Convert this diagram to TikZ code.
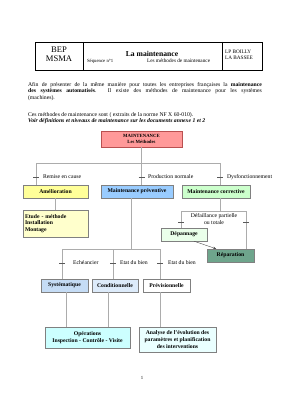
\documentclass[tikz,border=0pt]{standalone}
\usepackage{fontspec}
\setmainfont{Liberation Serif}
\usetikzlibrary{arrows.meta}

\definecolor{rosemtn}{RGB}{255,153,153}
\definecolor{bordmtn}{RGB}{185,80,80}
\definecolor{jaunebox}{RGB}{255,255,153}
\definecolor{jaunepale}{RGB}{255,255,204}
\definecolor{bleuprev}{RGB}{153,204,255}
\definecolor{vertcorr}{RGB}{204,255,204}
\definecolor{vertpale}{RGB}{234,255,234}
\definecolor{vertrepa}{RGB}{110,165,140}
\definecolor{bleusyst}{RGB}{197,220,245}
\definecolor{bleucond}{RGB}{221,235,250}
\definecolor{cyanop}{RGB}{204,255,255}
\definecolor{cyanana}{RGB}{234,255,255}

\begin{document}
\begin{tikzpicture}[x=2.1pt, y=-2.1pt, >=Stealth,
    every node/.style={font=\fontsize{12}{13.8}\selectfont},
    boite/.style={draw=black!50, line width=0.8pt, inner sep=0pt, minimum height=27.3pt,
        align=center, font=\fontsize{12}{13.8}\selectfont\bfseries},
    trait/.style={gray!65, line width=1.5pt},
    repere/.style={black!65, line width=0.6pt},
    etiq/.style={anchor=west, inner sep=0pt}]

    \useasboundingbox (0,0) rectangle (283,400);

    % Cartouche
    \draw[line width=0.6pt] (35,42) rectangle (262,70);
    \draw[line width=0.6pt] (83,42) -- (83,70) (222,42) -- (222,70);
    \node[align=center, font=\fontsize{18}{20}\selectfont] (bep) at (59,54) {BEP\\MSMA};
    \node[font=\fontsize{16}{18}\selectfont\bfseries] (titre) at (152,54) {La maintenance};
    \node[etiq, font=\fontsize{10}{12}\selectfont] (seq) at (87,61) {Séquence n°1};
    \node[etiq, font=\fontsize{11}{12}\selectfont] (meth) at (147,61) {Les méthodes de maintenance};
    \node[etiq, align=left, font=\fontsize{11}{13}\selectfont] (lp) at (225,55) {LP BOILLY\\LA BASSEE};

    % Texte d'introduction
    \node[anchor=north west, inner sep=0pt, text width=491pt, align=justify] (intro) at (28,82)
        {Afin de présenter de la même manière pour toutes les entreprises françaises la \textbf{maintenance}\linebreak
        \textbf{des systèmes automatisés}. Il existe des méthodes de maintenance pour les systèmes\linebreak
        (machines).};
    \node[anchor=north west, inner sep=0pt, align=left] (norme) at (28,112)
        {Ces méthodes de maintenance sont ( extraits de la norme NF X 60-010).\\
        \textbf{\textit{Voir définitions et niveaux de maintenance sur les documents annexe 1 et 2}}};

    % Les boîtes
    \node[boite, fill=rosemtn, draw=bordmtn, minimum width=170pt, minimum height=33.6pt,
        font=\fontsize{10}{11}\selectfont\bfseries] (mtn) at (141.5,139) {MAINTENANCE\\Les Méthodes};
    \node[boite, fill=jaunebox, minimum width=136.5pt] (amel) at (55.5,191.5) {Amélioration};
    \node[boite, fill=bleuprev, minimum width=151.2pt] (prev) at (137,191.5) {Maintenance préventive};
    \node[boite, fill=vertcorr, minimum width=142.8pt] (corr) at (216,191.5) {Maintenance corrective};
    \node[boite, fill=jaunepale, minimum width=136.5pt, minimum height=56.7pt, align=left,
        text width=128pt] (etude) at (55.5,223.5) {Etude - méthode\\Installation\\Montage};
    \node[boite, fill=vertpale, minimum width=96.6pt] (depa) at (184,234.5) {Dépannage};
    \node[boite, fill=vertrepa, minimum width=98.7pt] (repa) at (230.5,255.5) {Réparation};
    \node[boite, fill=bleusyst, minimum width=98.7pt] (syst) at (64.5,285.5) {Systématique};
    \node[boite, fill=bleucond, minimum width=96.6pt] (cond) at (115,285.5) {Conditionnelle};
    \node[boite, fill=white, minimum width=98.7pt] (prevs) at (166.5,285.5) {Prévisionnelle};
    \node[boite, fill=cyanop, minimum width=178.5pt, minimum height=44.1pt] (oper) at (87.5,337.5)
        {Opérations\\Inspection - Contrôle - Visite};
    \node[boite, fill=cyanana, minimum width=161.7pt, minimum height=52.5pt] (anal) at (177.5,339.5)
        {Analyse de l'évolution des\\paramètres et planification\\des interventions};

    % Premier niveau
    \coordinate (bA) at (141.5,163);
    \coordinate (bG) at (36,163);
    \coordinate (bD) at (220,163);
    \draw[trait] (mtn) -- (bA);
    \draw[trait] (bG) -- (bD);
    \draw[trait] (bG) -- (bG |- amel.north);
    \draw[trait] (bA) -- (bA |- prev.north);
    \draw[trait] (bD) -- (bD |- corr.north);
    \foreach \x/\lx/\txt [count=\i] in {36/43/Remise en cause, 141.5/148/Production normale, 220/227/Dysfonctionnement} {
        \draw[repere] (\x-3,177) -- (\x+3,177);
        \node[etiq] (causeA\i) at (\lx,177) {\txt};
    }

    % Amélioration
    \draw[trait] (amel) -- (etude);

    % Maintenance corrective
    \coordinate (cJ) at (220,211);
    \coordinate (cG) at (181,211);
    \coordinate (cD) at (246,211);
    \draw[trait] (cJ |- corr.south) -- (cJ);
    \draw[trait] (cG) -- (cD);
    \draw[trait] (cG) -- (cG |- depa.north);
    \draw[trait] (cD) -- (cD |- repa.north);
    \foreach \x in {181,246}
        \draw[repere] (\x-3,222) -- (\x+3,222);
    \node[align=center, inner sep=0pt] (defa) at (214,219) {Défaillance partielle\\ou totale};
    \draw[->, black!70, line width=0.8pt] ([xshift=21pt]depa.south) -- ([xshift=-30pt]repa.north);

    % Maintenance préventive
    \coordinate (pJ) at (131,249);
    \coordinate (pG) at (62,249);
    \coordinate (pM) at (113,249);
    \coordinate (pD) at (160,249);
    \draw[trait] (pJ |- prev.south) -- (pJ);
    \draw[trait] (pG) -- (pD);
    \draw[trait] (pG) -- (pG |- syst.north);
    \draw[trait] (pM) -- (pM |- cond.north);
    \draw[trait] (pD) -- (pD |- prevs.north);
    \foreach \x/\lx/\txt [count=\i] in {62/73/Echéancier, 113/120/Etat du bien, 160/168/Etat du bien} {
        \draw[repere] (\x-3,263) -- (\x+3,263);
        \node[etiq] (causeB\i) at (\lx,263) {\txt};
    }

    % Dernier niveau
    \coordinate (sA) at (66,300);
    \coordinate (sB) at (108,300);
    \coordinate (sC) at (160,300);
    \draw[trait] (sA |- syst.south) -- (sA |- oper.north);
    \draw[trait] (sB |- cond.south) -- (sB |- oper.north);
    \draw[trait] (sC |- prevs.south) -- (sC |- anal.north);

    \node[font=\fontsize{10}{12}\selectfont] (page) at (142,378) {1};
\end{tikzpicture}
\end{document}
